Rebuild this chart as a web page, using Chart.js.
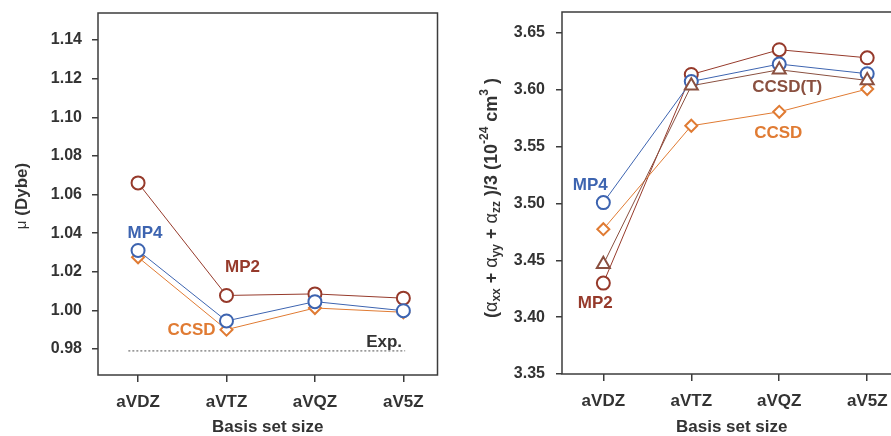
<!DOCTYPE html>
<html>
<head>
<meta charset="utf-8">
<script src="https://cdn.jsdelivr.net/npm/chart.js@4.4.1/dist/chart.umd.min.js"></script>
<style>
    html, body { margin: 0; padding: 0; background: #fff; width: 891px; height: 436px; overflow: hidden; }
    .panel { position: absolute; top: 0; }
</style>
</head>
<body>
<div class="panel" style="left:0"><canvas id="dipoleChart" width="446" height="436"></canvas></div>
<div class="panel" style="left:450px"><canvas id="polarChart" width="461" height="436"></canvas></div>
<script>
const basisSets = ["aVDZ", "aVTZ", "aVQZ", "aV5Z"];

// dipole moment (Debye)
const dipoleMP2 = [1.066, 1.0077, 1.0085, 1.0063];
const dipoleMP4 = [1.031, 0.9945, 1.0045, 0.9998];
const dipoleCCSD = [1.0275, 0.9900, 1.0012, 0.9990];
const dipoleExp = 0.979;
const expSpan = [-0.11, 3.02];
const dipoleTicks = [0.98, 1.00, 1.02, 1.04, 1.06, 1.08, 1.10, 1.12, 1.14];

// mean polarizability (10^-24 cm^3)
const polarMP2 = [3.4300, 3.6135, 3.6353, 3.6282];
const polarMP4 = [3.5008, 3.6074, 3.6227, 3.6142];
const polarCCSDT = [3.4465, 3.6036, 3.6177, 3.6083];
const polarCCSD = [3.4774, 3.5684, 3.5807, 3.6007];
const polarTicks = [3.35, 3.40, 3.45, 3.50, 3.55, 3.60, 3.65];

const colMP2 = "#963a2b";
const colMP4 = "#3d64b0";
const colCCSD = "#e07b33";
const colCCSDT = "#8a5040";
const colAxis = "#3c3c3c";
const fontFamily = "'Liberation Sans', Arial, sans-serif";

Chart.defaults.font.family = fontFamily;
Chart.defaults.font.size = 16;
Chart.defaults.font.weight = "bold";
Chart.defaults.color = "#333";

function series(label, values, color, shape, order) {
    return {
        label: label,
        data: values.map((v, i) => ({ x: i, y: v })),
        borderColor: color,
        borderWidth: 1,
        pointStyle: shape,
        pointRadius: shape === "circle" ? 6.5 : (shape === "triangle" ? 7.5 : 6),
        pointBorderWidth: 2,
        pointBorderColor: color,
        pointBackgroundColor: "#fff",
        order: order
    };
}

// box round the plot area
const framePlugin = {
    id: "frame",
    beforeDatasetsDraw(chart) {
        const { ctx, chartArea: a } = chart;
        ctx.save();
        ctx.strokeStyle = colAxis;
        ctx.lineWidth = 1.5;
        ctx.strokeRect(a.left, a.top, a.right - a.left, a.bottom - a.top);
        ctx.restore();
    }
};

// rotated y title with sub/superscripts
const yTitlePlugin = {
    id: "yTitle",
    afterDraw(chart, args, opts) {
        const ctx = chart.ctx;
        const a = chart.chartArea;
        const fontOf = p => (p.weight || "bold") + " " + p.size + "px " + fontFamily;
        const parts = opts.parts.map(p => {
            const size = p.size || (p.kind === "normal" ? opts.size : opts.smallSize);
            const q = { ...p, size: size };
            ctx.font = fontOf(q);
            q.w = ctx.measureText(p.text).width;
            return q;
        });
        const total = parts.reduce((s, p) => s + p.w, 0);
        ctx.save();
        ctx.translate(opts.x, (a.top + a.bottom) / 2 + opts.shift);
        ctx.rotate(-Math.PI / 2);
        ctx.fillStyle = "#333";
        ctx.textBaseline = "middle";
        let pos = -total / 2;
        parts.forEach(p => {
            ctx.font = fontOf(p);
            const dy = p.kind === "sub" ? 5 : (p.kind === "sup" ? -7 : 0);
            ctx.fillText(p.text, pos, dy);
            pos += p.w;
        });
        ctx.restore();
    }
};

// series names written next to a point
const labelPlugin = {
    id: "seriesLabels",
    afterDatasetsDraw(chart, args, opts) {
        const ctx = chart.ctx;
        ctx.save();
        ctx.font = "bold 17px " + fontFamily;
        ctx.textAlign = "center";
        ctx.textBaseline = "middle";
        opts.items.forEach(item => {
            const pt = chart.getDatasetMeta(item.ds).data[item.idx];
            ctx.fillStyle = item.color;
            ctx.fillText(item.text, pt.x + item.dx, pt.y + item.dy);
        });
        ctx.restore();
    }
};

function xScale(min, max, height) {
    return {
        type: "linear",
        min: min,
        max: max,
        afterBuildTicks: s => { s.ticks = basisSets.map((_, i) => ({ value: i })); },
        afterFit: s => { s.height = height; s.paddingLeft = 0; s.paddingRight = 0; },
        ticks: { padding: 10, font: { size: 17 }, callback: v => basisSets[v] },
        grid: { drawOnChartArea: false, drawTicks: true, tickLength: 7, color: colAxis, lineWidth: 1.5 },
        border: { display: false },
        title: { display: true, text: "Basis set size", padding: { top: 0, bottom: 0 }, font: { size: 17, lineHeight: 1 } }
    };
}

function yScale(min, max, tickValues, width, pad) {
    return {
        type: "linear",
        min: min,
        max: max,
        afterBuildTicks: s => { s.ticks = tickValues.map(v => ({ value: v })); },
        afterFit: s => { s.width = width; s.paddingTop = 0; s.paddingBottom = 0; },
        ticks: { padding: pad, callback: v => v.toFixed(2) },
        grid: { drawOnChartArea: false, drawTicks: true, tickLength: 6, color: colAxis, lineWidth: 1.5 },
        border: { display: false }
    };
}

new Chart(document.getElementById("dipoleChart"), {
    type: "line",
    data: {
        datasets: [
            series("MP2", dipoleMP2, colMP2, "circle", 4),
            series("MP4", dipoleMP4, colMP4, "circle", 2),
            series("CCSD", dipoleCCSD, colCCSD, "rectRot", 3),
            {
                label: "Exp.",
                data: expSpan.map(x => ({ x: x, y: dipoleExp })),
                borderColor: "#8c8c8c",
                borderWidth: 1.5,
                borderDash: [2, 2],
                pointRadius: 0,
                order: 5
            }
        ]
    },
    options: {
        responsive: false,
        devicePixelRatio: 1,
        animation: false,
        layout: { padding: { top: 13, right: 3, bottom: 0, left: 0 } },
        scales: {
            x: xScale(-0.453, 3.386, 61),
            y: yScale(0.9665, 1.154, dipoleTicks, 98, 10)
        },
        plugins: {
            legend: { display: false },
            tooltip: { enabled: false },
            yTitle: {
                x: 22, shift: 2, size: 17, smallSize: 12,
                parts: [
                    { text: "\u03bc", kind: "normal", weight: "normal", size: 15 },
                    { text: " (Dybe)", kind: "normal" }
                ]
            },
            seriesLabels: {
                items: [
                    { text: "MP4", color: colMP4, ds: 1, idx: 0, dx: 7, dy: -17 },
                    { text: "MP2", color: colMP2, ds: 0, idx: 1, dx: 16, dy: -28 },
                    { text: "CCSD", color: colCCSD, ds: 2, idx: 1, dx: -35, dy: 1 },
                    { text: "Exp.", color: "#333", ds: 3, idx: 1, dx: -21, dy: -9 }
                ]
            }
        }
    },
    plugins: [framePlugin, yTitlePlugin, labelPlugin]
});

new Chart(document.getElementById("polarChart"), {
    type: "line",
    data: {
        datasets: [
            series("MP2", polarMP2, colMP2, "circle", 4),
            series("MP4", polarMP4, colMP4, "circle", 2),
            series("CCSD(T)", polarCCSDT, colCCSDT, "triangle", 1),
            series("CCSD", polarCCSD, colCCSD, "rectRot", 3)
        ]
    },
    options: {
        responsive: false,
        devicePixelRatio: 1,
        animation: false,
        layout: { padding: { top: 12, right: 2, bottom: 0, left: 0 } },
        scales: {
            x: xScale(-0.47, 3.39, 62),
            y: yScale(3.35, 3.6685, polarTicks, 112, 11)
        },
        plugins: {
            legend: { display: false },
            tooltip: { enabled: false },
            yTitle: {
                x: 42, shift: 5, size: 18, smallSize: 12,
                parts: [
                    { text: "(", kind: "normal" },
                    { text: "\u03b1", kind: "normal", weight: "normal" },
                    { text: "xx", kind: "sub" },
                    { text: " + ", kind: "normal" },
                    { text: "\u03b1", kind: "normal", weight: "normal" },
                    { text: "yy", kind: "sub" },
                    { text: " + ", kind: "normal" },
                    { text: "\u03b1", kind: "normal", weight: "normal" },
                    { text: "zz", kind: "sub" },
                    { text: " )/3 (10", kind: "normal" },
                    { text: "-24", kind: "sup" },
                    { text: " cm", kind: "normal" },
                    { text: "3", kind: "sup" },
                    { text: " )", kind: "normal" }
                ]
            },
            seriesLabels: {
                items: [
                    { text: "MP4", color: colMP4, ds: 1, idx: 0, dx: -13, dy: -17 },
                    { text: "MP2", color: colMP2, ds: 0, idx: 0, dx: -8, dy: 20 },
                    { text: "CCSD(T)", color: colCCSDT, ds: 2, idx: 2, dx: 8, dy: 18 },
                    { text: "CCSD", color: colCCSD, ds: 3, idx: 2, dx: -1, dy: 22 }
                ]
            }
        }
    },
    plugins: [framePlugin, yTitlePlugin, labelPlugin]
});
</script>
</body>
</html>
